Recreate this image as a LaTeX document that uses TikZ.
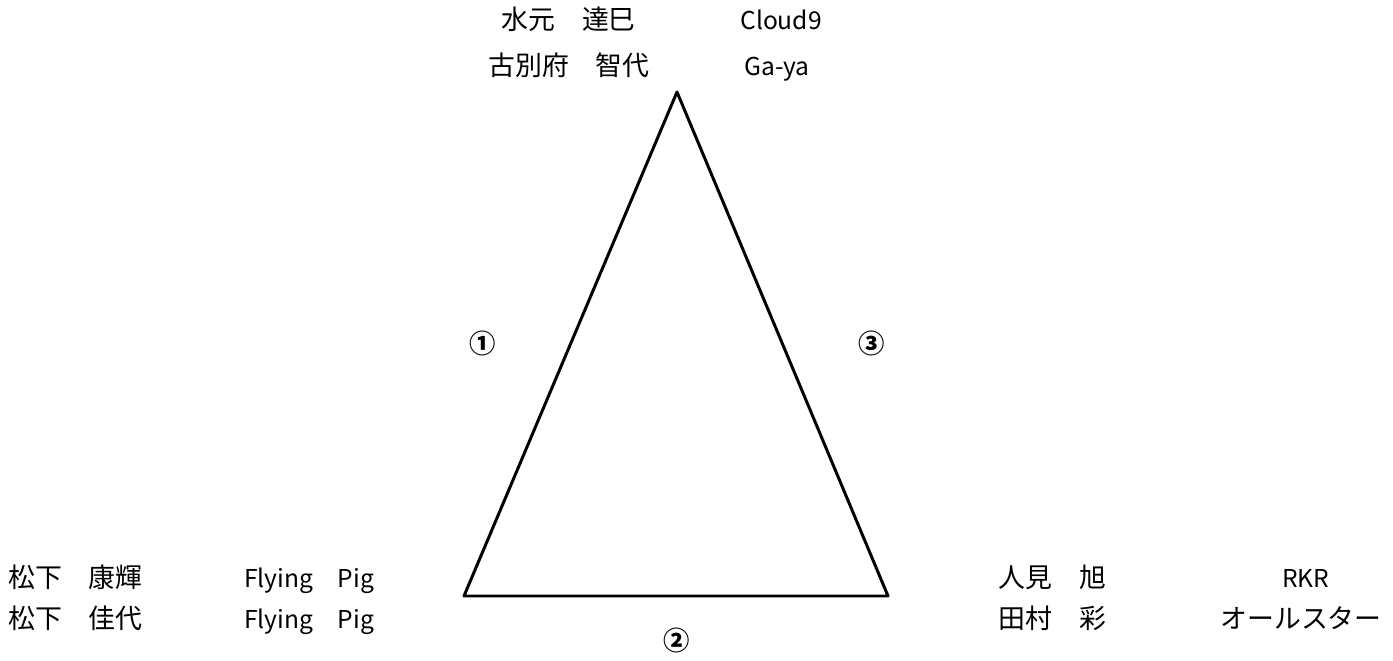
\documentclass[tikz,border=0pt]{standalone}
\usepackage{fontspec}
\setmainfont{Noto Sans CJK JP}
\begin{document}
\begin{tikzpicture}[line cap=round,line join=round,x=0.02cm,y=-0.02cm,
  entry/.style={anchor=base west,inner sep=0pt,font=\fontsize{15.3}{18}\selectfont},
  latin/.style={entry,font=\fontsize{14}{17}\selectfont},
  mark num/.style={inner sep=0pt,font=\fontsize{15}{18}\selectfont\bfseries}]
\useasboundingbox (0,0) rectangle (1393,661);
\path
(677,92) coordinate (T)
(464,596) coordinate (L)
(888,596) coordinate (R)
;
\draw[line width=1.7pt] (T)--(L)--(R)--cycle;
\foreach \n/\x/\y/\t in {T1/501/30/水元　達巳,T2/488/76/古別府　智代,
  L1/8/588/松下　康輝,L2/8/629/松下　佳代,
  R1/998/588/人見　旭,R2/998/629/田村　彩,R4/1220/629/オールスター}
\node[entry] (\n) at (\x,\y) {\t};
\foreach \n/\x/\y/\t in {T3/740/30/Cloud9,T4/744/76/Ga-ya,
  L3/244/588/Flying　Pig,L4/244/629/Flying　Pig,R3/1282/588/RKR}
\node[latin] (\n) at (\x,\y) {\t};
\node[mark num] (m1) at (483,343) {①};
\node[mark num] (m2) at (677,640) {②};
\node[mark num] (m3) at (872,343) {③};
\end{tikzpicture}
\end{document}
